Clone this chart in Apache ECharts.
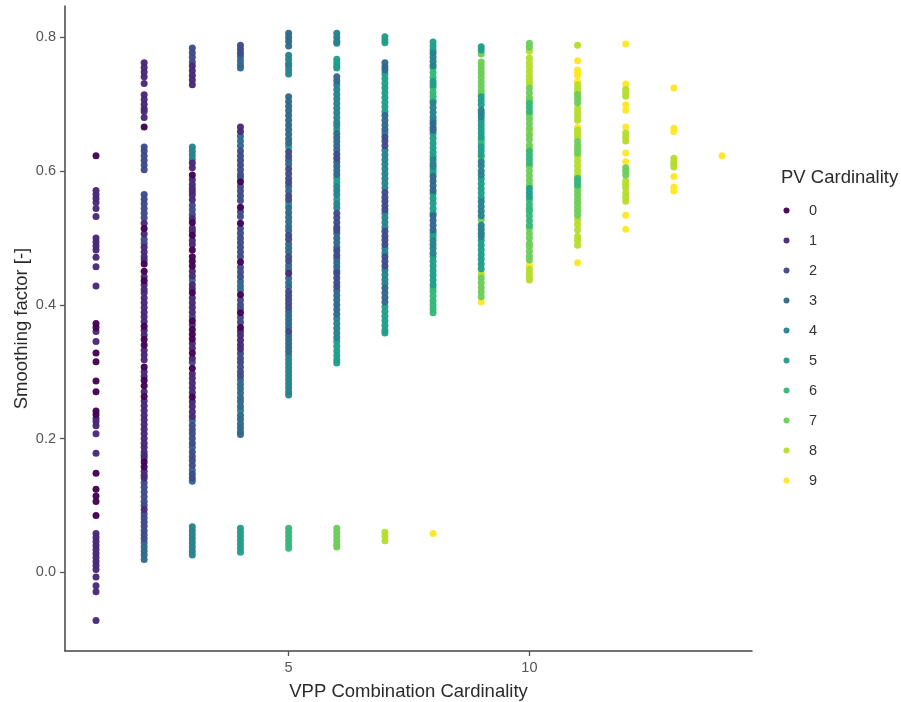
<!DOCTYPE html>
<html><head><meta charset="utf-8">
<script src="https://cdn.jsdelivr.net/npm/echarts@6/dist/echarts.min.js"></script>
<style>html,body{margin:0;padding:0;background:#fff}#c{width:901px;height:702px}</style></head>
<body><div id="c"></div>
<script>
const pvLevels = ['0','1','2','3','4','5','6','7','8','9'];
const pvColors = ['#440154','#482878','#3E4A89','#31688E','#26828E','#1F9E89','#35B779','#6DCD59','#B4DE2C','#FDE725'];
const xTicks = [5,10];
const yTicks = [0,0.2,0.4,0.6,0.8];
// each column: VPP cardinality -> runs of [PV cardinality, smoothing factors]
const col1 = [[0,[.623]],[1,[.571,.565,.559,.553,.544,.532,.5,.494,.488,.482,.471,.457,.428]],[0,[.372,.366]],[1,[.36,.345]],[0,[.328,.315,.286,.27,.241,.236]],[1,[.23,.225,.219,.207,.178]],[0,[.148,.124,.114,.106,.085]],[1,[.058,.052,.046,.04,.034,.028,.022,.016,.01,.004,-.007,-.02,-.029,-.072]]];
const col2 = [[1,[.762,.755,.748,.741,.731,.714,.707,.7,.693,.689,.68]],[0,[.666]],[2,[.636,.63,.623,.616,.609,.602,.565,.558,.551,.544,.537,.53]],[1,[.522]],[0,[.514]],[1,[.506]],[2,[.498,.492]],[1,[.486,.479,.472,.467]],[0,[.461,.45]],[1,[.442]],[0,[.436]],[1,[.43,.423,.418,.41,.403,.396,.389,.382,.375]],[0,[.368]],[1,[.362,.355]],[0,[.348,.34]],[1,[.332,.325,.318]],[0,[.307]],[1,[.3,.293]],[0,[.287,.279]],[1,[.27]],[0,[.263]],[1,[.256,.249,.242,.235,.228,.221,.214,.207,.2,.193,.187,.18,.175,.171]],[0,[.165,.158]],[1,[.151,.145,.141]],[2,[.134,.127,.12,.113,.106,.1]],[1,[.094]],[2,[.087,.081,.075,.069,.062,.056,.05]],[3,[.044,.038,.032,.026,.019]]];
const col3 = [[2,[.784,.777,.77,.763]],[1,[.757,.75,.743,.736,.729]],[4,[.636,.63,.624,.618]],[1,[.612,.605]],[0,[.594]],[1,[.587,.58,.574,.569,.564,.557]],[2,[.549,.542,.535]],[1,[.529]],[0,[.523]],[1,[.515,.51]],[0,[.504]],[1,[.496,.49]],[0,[.482,.472,.465,.458]],[1,[.45,.443]],[3,[.437]],[1,[.43,.424]],[0,[.418]],[1,[.41,.403,.396,.389]],[2,[.382]],[0,[.376]],[1,[.37]],[0,[.363,.356,.349]],[1,[.342,.335]],[0,[.328]],[1,[.32]],[2,[.314]],[0,[.305]],[1,[.297,.29,.283,.276,.269]],[0,[.262]],[1,[.255,.248,.24,.233]],[3,[.227]],[2,[.22,.213,.207,.2,.193]],[3,[.187]],[2,[.18,.173,.167,.16]],[3,[.153]],[2,[.147,.141]],[3,[.136]],[4,[.068,.062,.056,.05,.044,.038,.032,.026]]];
const col4 = [[2,[.788,.782,.776]],[3,[.771,.765,.759,.754]],[1,[.666,.659]],[3,[.652,.645,.638]],[2,[.63,.623,.616,.609,.602,.595]],[3,[.59]],[0,[.584]],[2,[.577,.57,.563,.556]],[0,[.546]],[2,[.539,.532]],[0,[.522]],[2,[.514,.507,.5,.493,.486,.479,.472]],[0,[.464]],[2,[.456,.449,.442]],[3,[.435,.428,.422]],[0,[.415]],[2,[.407,.4,.394]],[0,[.388]],[2,[.381,.374]],[0,[.366]],[1,[.36,.354,.347,.34,.334]],[2,[.327,.32,.314,.307,.3,.294]],[3,[.288,.281,.275,.268,.261,.255,.248]],[4,[.242]],[3,[.235,.229,.222,.216,.21,.206]],[5,[.066,.06,.054,.048,.042,.036,.03]]];
const col5 = [[3,[.806,.8,.794,.787]],[4,[.773,.767,.761,.757,.751,.745]],[3,[.711,.704,.697,.69,.683,.676,.669,.662,.655,.648,.642]],[5,[.636]],[2,[.629,.622]],[3,[.616,.61]],[2,[.603,.596,.589,.583]],[3,[.577,.57]],[2,[.563,.557]],[5,[.551]],[3,[.545,.538,.531,.524,.517,.511]],[2,[.504,.498]],[3,[.491,.485,.479]],[2,[.472,.466]],[3,[.459,.453]],[1,[.447]],[3,[.44,.433,.427]],[2,[.42,.414,.408,.402,.396]],[3,[.39,.384,.378,.372,.366]],[2,[.36]],[3,[.354,.348,.342,.336,.33]],[4,[.324,.318,.312,.306,.3,.294,.288,.282,.276,.27,.265]],[6,[.066,.06,.054,.048,.042,.036]]];
const col6 = [[4,[.806,.8,.794,.791]],[5,[.767,.762,.757,.754]],[3,[.741,.735]],[4,[.729,.722,.715,.708,.701,.694,.687,.68,.673,.668]],[5,[.662]],[3,[.656,.65,.644,.638,.632]],[2,[.625,.619]],[3,[.613,.607,.601,.595]],[5,[.589,.583]],[4,[.577,.571,.565]],[5,[.558]],[4,[.551,.545]],[2,[.537,.53,.523,.516,.512]],[3,[.507,.5,.493,.486]],[2,[.481,.474]],[3,[.469,.463,.457,.451]],[2,[.447,.44,.433,.427]],[3,[.421,.414,.407,.4,.393,.386]],[4,[.379,.372,.365,.358,.351]],[5,[.345,.338,.331,.324,.318,.313]],[7,[.066,.06,.054,.048,.042,.038]]];
const col7 = [[5,[.801,.796,.792]],[3,[.762,.756,.751]],[5,[.745,.738,.731,.724,.717,.71,.703,.696,.689]],[3,[.683,.676,.669,.662]],[4,[.657]],[2,[.651,.645,.638]],[4,[.631,.624,.617,.61,.603,.596,.589,.582,.575]],[2,[.568,.561,.555,.548,.542]],[4,[.537,.53,.523,.516]],[2,[.51,.503,.497,.49]],[4,[.484,.478]],[2,[.472,.465,.458]],[4,[.452,.445,.438,.432]],[3,[.425,.418,.411,.404]],[5,[.397,.39,.383,.376,.369,.362,.358]],[8,[.06,.054,.047]]];
const col8 = [[5,[.793,.787,.781]],[4,[.776,.77,.764,.758]],[6,[.754,.747,.74]],[5,[.734,.729]],[6,[.725,.718,.712,.706]],[4,[.702,.695,.688,.681,.676]],[3,[.671,.665,.661]],[5,[.656,.649,.642,.635,.628,.622]],[4,[.617,.611,.607]],[5,[.602,.597]],[3,[.592,.585,.578,.571]],[5,[.566,.559,.552,.544,.537]],[3,[.533,.526,.519,.512]],[5,[.507,.502]],[4,[.496,.49,.484,.477]],[5,[.472,.465,.458,.451,.444,.437,.43]],[6,[.425,.42,.413,.406,.4,.394,.388]],[9,[.058]]];
const col9 = [[5,[.786,.781]],[7,[.775,.763,.757,.751,.746,.74,.733,.727,.721,.716]],[5,[.711,.705,.699]],[4,[.691,.686,.681]],[5,[.675,.669,.663,.657,.651]],[6,[.646,.641]],[5,[.636,.63,.624]],[7,[.62]],[4,[.614,.608,.6,.594]],[5,[.588,.581,.574,.567,.56]],[4,[.554,.547,.54,.533]],[7,[.527]],[4,[.519,.513,.507,.502]],[5,[.496,.489,.482,.475,.468,.461,.454]],[8,[.446]],[7,[.44,.433,.426,.419,.412]],[9,[.404]]];
const col10 = [[7,[.791,.785]],[8,[.779,.769,.762,.756,.749,.742,.736,.731]],[7,[.724,.717,.71,.706]],[6,[.701,.695,.689]],[7,[.684,.678,.671,.664]],[8,[.659]],[7,[.654,.647,.639]],[8,[.635]],[6,[.63,.624,.618,.612]],[7,[.607,.6,.593,.586,.579]],[5,[.574,.568,.562]],[6,[.557,.55,.544,.54,.533,.526,.519]],[7,[.514,.507,.5,.492,.487,.48,.473,.467]],[9,[.459]],[8,[.453,.447,.441,.437]]];
const col11 = [[8,[.788]],[9,[.765,.751,.747,.743,.734]],[8,[.729,.723,.718]],[7,[.714,.708,.702]],[8,[.694,.688,.682,.676]],[9,[.665]],[8,[.661,.656,.651]],[7,[.644,.638,.632,.627]],[8,[.622,.615,.608,.601,.594]],[6,[.589,.584,.579]],[7,[.576,.57,.564,.558,.552,.546,.54,.534]],[8,[.527,.52,.512,.502,.496,.489]],[9,[.463]]];
const col12 = [[9,[.79,.73]],[8,[.722,.717,.712]],[9,[.699,.691,.666]],[8,[.657,.651,.645]],[9,[.627,.614]],[7,[.605,.6,.594]],[8,[.585,.58,.575,.567,.561,.555]],[9,[.534,.513]]];
const col13 = [[9,[.724,.664,.659]],[8,[.619,.614,.61,.606]],[9,[.592,.576,.57]]];
const col14 = [[9,[.623]]];
const columns = [col1,col2,col3,col4,col5,col6,col7,col8,col9,col10,col11,col12,col13,col14];

const seriesData = pvLevels.map(() => []);
columns.forEach((col, i) => col.forEach(([pv, ys]) => ys.forEach(y => seriesData[pv].push([i + 1, y]))));

const font = '"Liberation Sans", Arial, sans-serif';
const chart = echarts.init(document.getElementById('c'), null, {renderer: 'canvas'});
chart.setOption({
  animation: false,
  backgroundColor: '#fff',
  textStyle: {fontFamily: font},
  grid: {left: 65, right: 149, top: 6, bottom: 51, containLabel: false, outerBoundsMode: 'none'},
  title: {text: 'PV Cardinality', left: 781, top: 168, padding: 0, textStyle: {fontFamily: font, fontSize: 18.5, fontWeight: 'normal', color: '#2b2b2b'}},
  legend: {
    data: pvLevels, orient: 'vertical', left: 778.5, top: 198, padding: 5, icon: 'circle',
    itemWidth: 35, itemHeight: 6, itemGap: 15,
    textStyle: {fontFamily: font, fontSize: 14.5, color: '#333', lineHeight: 14}
  },
  xAxis: {
    type: 'value', min: 0.356, max: 14.623,
    name: 'VPP Combination Cardinality', nameLocation: 'middle', nameGap: 31, nameMoveOverlap: false,
    nameTextStyle: {fontFamily: font, fontSize: 18.5, color: '#2b2b2b'},
    splitLine: {show: false},
    axisLine: {onZero: false, lineStyle: {color: '#444', width: 1.5}},
    axisTick: {customValues: xTicks, length: 5, lineStyle: {color: '#555', width: 1.3}},
    axisLabel: {customValues: xTicks, fontFamily: font, fontSize: 14.5, color: '#555', margin: 9}
  },
  yAxis: {
    type: 'value', min: -0.1177, max: 0.8468,
    name: 'Smoothing factor [-]', nameLocation: 'middle', nameGap: 34, nameMoveOverlap: false,
    nameTextStyle: {fontFamily: font, fontSize: 18.5, color: '#2b2b2b'},
    splitLine: {show: false},
    axisLine: {onZero: false, lineStyle: {color: '#444', width: 1.5}},
    axisTick: {customValues: yTicks, length: 5, lineStyle: {color: '#555', width: 1.3}},
    axisLabel: {customValues: yTicks, fontFamily: font, fontSize: 14.5, color: '#555', margin: 9, formatter: v => v.toFixed(1)}
  },
  series: pvLevels.map((name, i) => ({
    name, type: 'scatter', data: seriesData[i], symbol: 'circle', symbolSize: 7,
    z: 20 - i,
    itemStyle: {color: pvColors[i], opacity: 0.96}
  }))
});
</script></body></html>
